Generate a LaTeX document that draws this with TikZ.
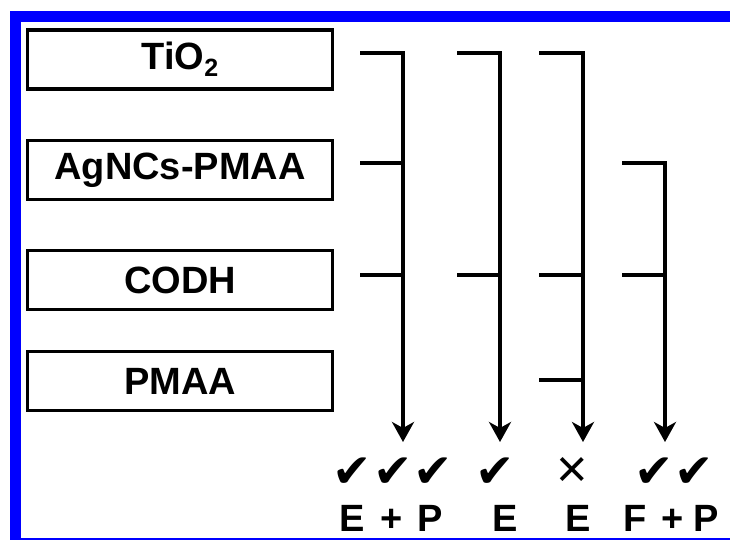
\documentclass[tikz,border=0pt]{standalone}
\usepackage{fontspec}
\setmainfont{Liberation Sans}
\newfontfamily\symfont{DejaVu Sans}
\usepackage{tikz}
\usetikzlibrary{arrows.meta, positioning, calc}

\begin{document}
\begin{tikzpicture}[x=1pt, y=-1pt,
  layer/.style={draw, line width=3.2pt, minimum width=305pt, minimum height=59pt, inner sep=0pt, font=\fontsize{38}{38}\selectfont\bfseries},
  link/.style={line width=3.6pt},
  flow/.style={link, -{Stealth[length=20pt, width=22pt, inset=6pt]}},
  ok/.style={font=\fontsize{47}{47}\selectfont\symfont, inner sep=0pt},
  res/.style={font=\fontsize{38}{38}\selectfont\bfseries, inner sep=0pt, anchor=base},
]
\useasboundingbox (0,0) rectangle (730,539);
% Frame
\draw[blue, line width=11pt] (15.5,16) rectangle (745,543);

% Layers
\node[layer] (tio2) at (180,59.5) {TiO\raisebox{-0.35ex}{\fontsize{25}{25}\selectfont 2}};
\node[layer] (agncs) at (180,170) {AgNCs-PMAA};
\node[layer] (codh) at (180,280) {CODH};
\node[layer] (pmaa) at (180,381) {PMAA};

% Arrow ends
\coordinate (a1) at (403,442);
\coordinate (a2) at (500,442);
\coordinate (a3) at (583,442);
\coordinate (a4) at (665,442);

% Column 1
\draw[flow] ([xshift=26pt,yshift=6.5pt]tio2.east) -| (a1);
\draw[link] ([xshift=26pt,yshift=7pt]agncs.east) -- ++(45,0);
\draw[link] ([xshift=26pt,yshift=5pt]codh.east) -- ++(45,0);
% Column 2
\draw[flow] ([xshift=123pt,yshift=6.5pt]tio2.east) -| (a2);
\draw[link] ([xshift=123pt,yshift=5pt]codh.east) -- ++(45,0);
% Column 3
\draw[flow] ([xshift=205pt,yshift=6.5pt]tio2.east) -| (a3);
\draw[link] ([xshift=205pt,yshift=5pt]codh.east) -- ++(45,0);
\draw[link] ([xshift=205pt,yshift=1pt]pmaa.east) -- ++(45,0);
% Column 4
\draw[flow] ([xshift=288pt,yshift=7pt]agncs.east) -| (a4);
\draw[link] ([xshift=288pt,yshift=5pt]codh.east) -- ++(45,0);

% Results
\node[ok] (k1) at (393,473) {✔\hspace{1pt}✔\hspace{1pt}✔};
\node[ok] (k2) at (495,473) {✔};
\node[font=\fontsize{54}{54}\selectfont, inner sep=0pt] (k3) at (572,472) {×};
\node[ok] (k4) at (674,473) {✔\hspace{1pt}✔};

\node[res] (l1) at (391,531) {E\hspace{16pt}+\hspace{15pt}P};
\node[res] (l2) at (505,531) {E};
\node[res] (l3) at (578,531) {E};
\node[res] (l4) at (671,531) {F\hspace{15pt}+\hspace{9pt}P};
\end{tikzpicture}
\end{document}
